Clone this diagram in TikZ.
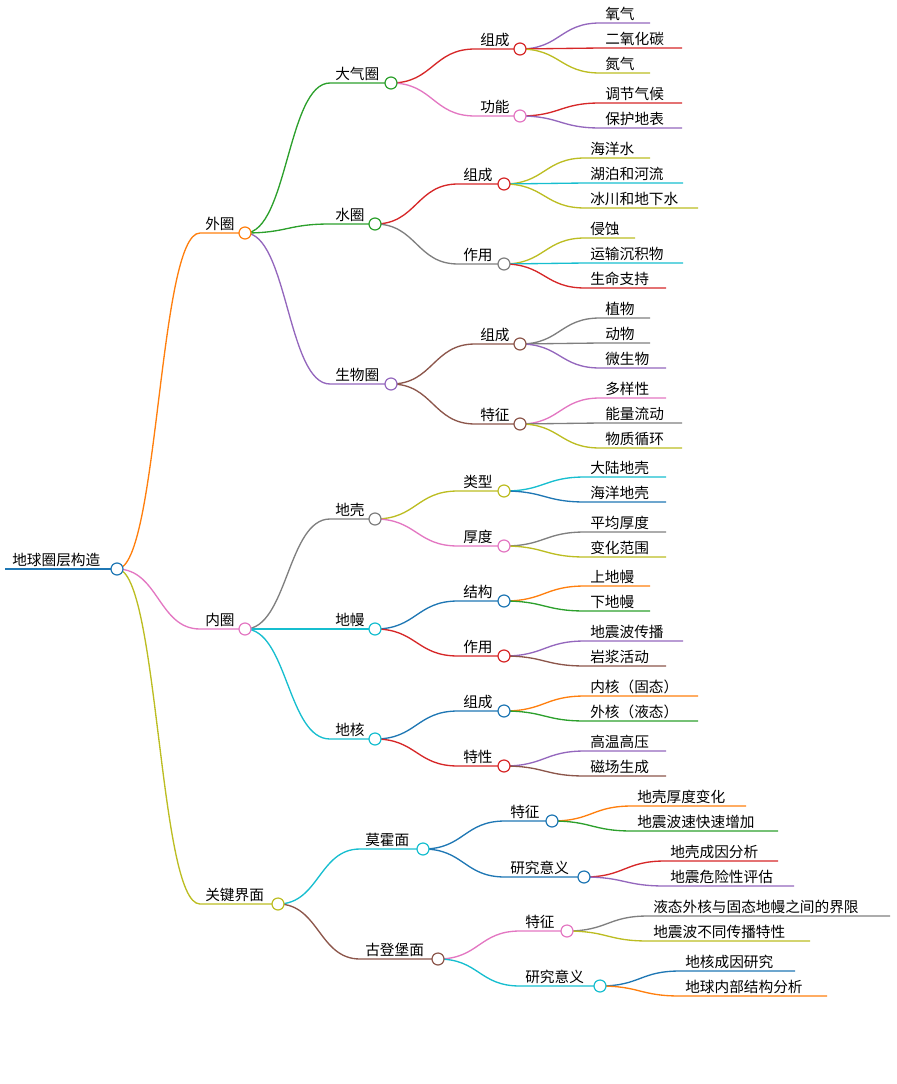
\documentclass[tikz,border=0pt]{standalone}
\usepackage{fontspec}
\setmainfont{Noto Sans CJK SC}
\usetikzlibrary{calc}
\pgfdeclarelayer{bg}\pgfsetlayers{bg,main}
\definecolor{cO}{HTML}{FF7F0E}\definecolor{cG}{HTML}{2CA02C}\definecolor{cR}{HTML}{D62728}
\definecolor{cP}{HTML}{9467BD}\definecolor{cBr}{HTML}{8C564B}\definecolor{cPk}{HTML}{E377C2}
\definecolor{cGy}{HTML}{7F7F7F}\definecolor{cOl}{HTML}{BCBD22}\definecolor{cC}{HTML}{17BECF}
\definecolor{cB}{HTML}{1F77B4}
\tikzset{lbl/.style={anchor=south west,inner sep=1.5pt,font=\fontsize{11}{12}\selectfont},
 dot/.style={fill=white,line width=0.9pt}}
\newcommand\mm[8]{%
\begin{pgfonlayer}{bg}\draw[#1,line width=1pt] let \p1=(#7),\p2=(#3,#5),\n1={(\x2-\x1)/2} in (\p1) .. controls +(\n1,0) and +(-\n1,0) .. (\p2) -- (#4,#5);\end{pgfonlayer}
\node[lbl] (#2t) at ({#3+3},#5) {#6};
\coordinate (#2) at (#4,#5);
\ifnum#8=1 \draw[#1,dot] (#2) circle[radius=4.5pt];\fi}
\begin{document}
\begin{tikzpicture}[x=0.75pt,y=-0.75pt]
\useasboundingbox (0,0) rectangle (896,1084);
\draw[cB,line width=2.2pt] (5,569) -- (117,569);
\node[lbl] (roott) at (10,569) {地球圈层构造};
\coordinate (root) at (117,569);
\begin{pgfonlayer}{main}\end{pgfonlayer}
% level 1
\mm{cO,line width=1.4pt}{wq}{200}{245}{233}{外圈}{root}{1}
\mm{cPk,line width=1.4pt}{nq}{200}{245}{629}{内圈}{root}{1}
\mm{cOl,line width=1.4pt}{gj}{200}{278}{904}{关键界面}{root}{1}
% 外圈
\mm{cG}{dqq}{330}{391}{83}{大气圈}{wq}{1}
\mm{cG}{sq}{330}{375}{224}{水圈}{wq}{1}
\mm{cP}{swq}{330}{391}{384}{生物圈}{wq}{1}
\mm{cR}{a1}{475}{520}{49}{组成}{dqq}{1}
\mm{cPk}{a2}{475}{520}{116}{功能}{dqq}{1}
\mm{cP}{a11}{600}{650}{23}{氧气}{a1}{0}
\mm{cR}{a12}{600}{682}{48}{二氧化碳}{a1}{0}
\mm{cOl}{a13}{600}{650}{73}{氮气}{a1}{0}
\mm{cR}{a21}{600}{682}{103}{调节气候}{a2}{0}
\mm{cP}{a22}{600}{682}{128}{保护地表}{a2}{0}
\mm{cR}{b1}{458}{504}{184}{组成}{sq}{1}
\mm{cGy}{b2}{458}{504}{264}{作用}{sq}{1}
\mm{cOl}{b11}{585}{650}{158}{海洋水}{b1}{0}
\mm{cC}{b12}{585}{683}{183}{湖泊和河流}{b1}{0}
\mm{cOl}{b13}{585}{698}{208}{冰川和地下水}{b1}{0}
\mm{cOl}{b21}{585}{635}{238}{侵蚀}{b2}{0}
\mm{cC}{b22}{585}{683}{263}{运输沉积物}{b2}{0}
\mm{cR}{b23}{585}{666}{288}{生命支持}{b2}{0}
\mm{cBr}{c1}{475}{520}{344}{组成}{swq}{1}
\mm{cBr}{c2}{475}{520}{424}{特征}{swq}{1}
\mm{cGy}{c11}{600}{650}{318}{植物}{c1}{0}
\mm{cGy}{c12}{600}{650}{343}{动物}{c1}{0}
\mm{cP}{c13}{600}{666}{368}{微生物}{c1}{0}
\mm{cPk}{c21}{600}{666}{398}{多样性}{c2}{0}
\mm{cGy}{c22}{600}{682}{423}{能量流动}{c2}{0}
\mm{cOl}{c23}{600}{682}{448}{物质循环}{c2}{0}
% 内圈
\mm{cGy}{dk}{330}{375}{519}{地壳}{nq}{1}
\mm{cC}{dm}{330}{375}{629}{地幔}{nq}{1}
\mm{cC}{dh}{330}{375}{739}{地核}{nq}{1}
\mm{cOl}{d1}{458}{504}{491}{类型}{dk}{1}
\mm{cPk}{d2}{458}{504}{546}{厚度}{dk}{1}
\mm{cC}{d11}{585}{666}{477}{大陆地壳}{d1}{0}
\mm{cB}{d12}{585}{666}{502}{海洋地壳}{d1}{0}
\mm{cGy}{d21}{585}{666}{532}{平均厚度}{d2}{0}
\mm{cOl}{d22}{585}{666}{557}{变化范围}{d2}{0}
\mm{cB}{e1}{458}{504}{601}{结构}{dm}{1}
\mm{cR}{e2}{458}{504}{656}{作用}{dm}{1}
\mm{cO}{e11}{585}{650}{586}{上地幔}{e1}{0}
\mm{cG}{e12}{585}{650}{611}{下地幔}{e1}{0}
\mm{cP}{e21}{585}{683}{641}{地震波传播}{e2}{0}
\mm{cBr}{e22}{585}{666}{666}{岩浆活动}{e2}{0}
\mm{cB}{f1}{458}{504}{711}{组成}{dh}{1}
\mm{cR}{f2}{458}{504}{766}{特性}{dh}{1}
\mm{cO}{f11}{585}{698}{696}{内核（固态）}{f1}{0}
\mm{cG}{f12}{585}{698}{721}{外核（液态）}{f1}{0}
\mm{cP}{f21}{585}{666}{751}{高温高压}{f2}{0}
\mm{cBr}{f22}{585}{666}{776}{磁场生成}{f2}{0}
% 关键界面
\mm{cC}{mh}{360}{423}{849}{莫霍面}{gj}{1}
\mm{cBr}{gd}{360}{438}{959}{古登堡面}{gj}{1}
\mm{cB}{g1}{505}{552}{821}{特征}{mh}{1}
\mm{cB}{g2}{505}{584}{877}{研究意义}{mh}{1}
\mm{cO}{g11}{632}{746}{806}{地壳厚度变化}{g1}{0}
\mm{cG}{g12}{632}{778}{831}{地震波速快速增加}{g1}{0}
\mm{cR}{g21}{665}{778}{861}{地壳成因分析}{g2}{0}
\mm{cP}{g22}{665}{794}{886}{地震危险性评估}{g2}{0}
\mm{cPk}{h1}{520}{567}{931}{特征}{gd}{1}
\mm{cC}{h2}{520}{600}{986}{研究意义}{gd}{1}
\mm{cGy}{h11}{648}{890}{916}{液态外核与固态地幔之间的界限}{h1}{0}
\mm{cOl}{h12}{648}{810}{941}{地震波不同传播特性}{h1}{0}
\mm{cB}{h21}{680}{795}{971}{地核成因研究}{h2}{0}
\mm{cO}{h22}{680}{827}{996}{地球内部结构分析}{h2}{0}
\draw[cB,dot] (root) circle[radius=4.5pt];
\end{tikzpicture}
\end{document}
